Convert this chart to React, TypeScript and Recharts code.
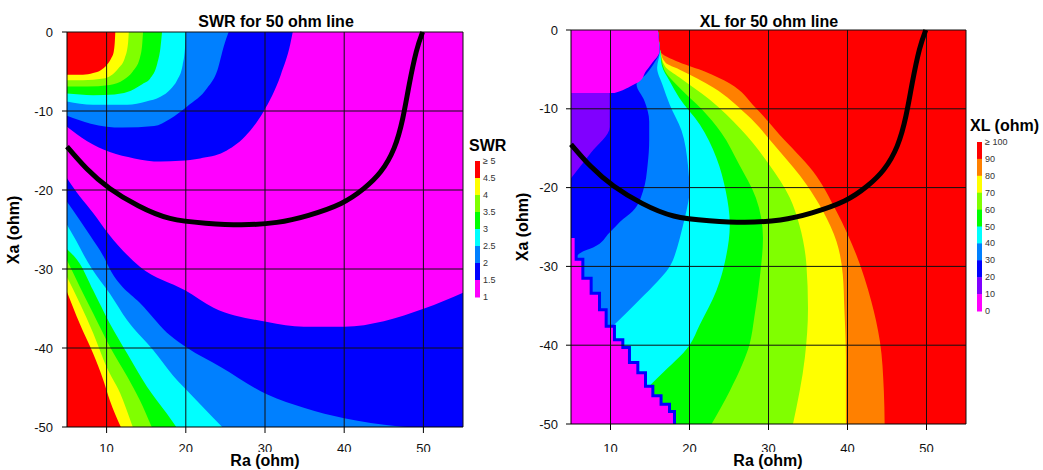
import React from "react";
import { ComposedChart, Area, Line, XAxis, YAxis } from "recharts";

type Pt = [number, number];

const FONT = '"Liberation Sans", Arial, Helvetica, sans-serif';

const raTicks = [10, 20, 30, 40, 50];
const xaTicks = [0, -10, -20, -30, -40, -50];
const raDomain: [number, number] = [5, 55];
const xaDomain: [number, number] = [-50, 0];

// the black line, same in both plots (Ra, Xa)
const lineCurve: Pt[] = [
  [5, -14.5], [7.5, -17.3], [10.4, -19.8], [14, -22.0], [18, -23.6], [22.5, -24.2],
  [27, -24.4], [31.5, -24.1], [35.5, -23.2], [39.6, -21.7], [42.5, -19.8], [44.6, -17.7],
  [46.3, -14.7], [47.4, -10.9], [48.2, -6.7], [49.1, -2.5], [49.9, 0],
];

// SWR: lower edge of each band in the top-left corner (Ra, Xa)
const swrTop15: Pt[] = [[5, -12.0], [7.5, -13.8], [10.4, -15.2], [13.5, -16.0], [16.8, -16.4], [19.3, -16.3], [21.8, -16.0], [24.8, -15.2], [27.5, -13.2], [29.8, -10.1], [32.0, -5.4], [33.2, -1.5], [33.5, 0]];
const swrTop20: Pt[] = [[5, -10.6], [8, -11.6], [12, -12.1], [16, -11.9], [18, -11.0], [20.2, -9.4], [22.7, -7.1], [24.0, -4.8], [24.8, -1.8], [25.4, 0]];
const swrTop25: Pt[] = [[5, -8.8], [8.3, -9.2], [12.6, -9.2], [15, -8.8], [16.8, -8.2], [18.1, -7.2], [18.9, -6.1], [19.6, -4.2], [19.9, -2.0], [20.0, 0]];
const swrTop30: Pt[] = [[5, -7.8], [8.3, -8.0], [11, -7.9], [12.6, -7.6], [14.5, -6.6], [15.5, -5.9], [16.4, -4.0], [16.8, -2.0], [17.0, 0]];
const swrTop35: Pt[] = [[5, -6.9], [7.5, -6.9], [10.4, -6.7], [12.2, -6.0], [13.3, -5.0], [14.2, -3.3], [14.5, -1.5], [14.6, 0]];
const swrTop40: Pt[] = [[5, -6.1], [7, -6.1], [9.6, -5.9], [11.5, -4.6], [12.3, -3.3], [12.7, -1.5], [12.8, 0]];
const swrTop45: Pt[] = [[5, -5.4], [7.0, -5.4], [8.3, -5.2], [9.3, -4.8], [10.0, -4.2], [10.6, -3.3], [10.9, -2.5], [11.05, -1.0], [11.1, 0]];

// SWR: upper edge of each band along the bottom-left (Ra, Xa)
const swrBot15: Pt[] = [[5, -18.5], [6.6, -20.8], [8.3, -22.9], [10.2, -25.5], [14.2, -29.7], [19.9, -32.7], [23.5, -34.9], [30.3, -36.7], [34.9, -37.3], [40.0, -37.3], [45, -36.6], [50.1, -35.0], [55, -33.0]];
const swrBot20: Pt[] = [[5, -21.5], [6.6, -23.8], [8, -25.9], [9.6, -28.4], [10.4, -30.0], [14.7, -34.8], [18.0, -38.4], [20.2, -40.0], [24.4, -42.4], [30.3, -45.9], [35, -47.6], [40.0, -48.9], [46.7, -49.9], [48, -50]];
const swrBot25: Pt[] = [[5, -24.4], [6.2, -26.5], [7.1, -28.2], [8.1, -29.9], [10.4, -33.1], [12.6, -36.5], [15.9, -40.3], [18.4, -43.5], [19.7, -44.9], [22, -47.3], [24.6, -50]];
const swrBot30: Pt[] = [[5, -27.5], [6.6, -29.3], [8.3, -32.7], [10.4, -36.9], [12.6, -40.7], [15.1, -44.9], [17.6, -48.3], [18.8, -50]];
const swrBot35: Pt[] = [[5, -28.9], [6.6, -32.2], [8.3, -35.6], [10.4, -39.8], [12.6, -43.6], [14.2, -46.6], [15.7, -50]];
const swrBot40: Pt[] = [[5, -31.0], [6.6, -34.3], [8.3, -38.1], [10.0, -42.4], [11.7, -45.7], [13.3, -50]];
const swrBot45: Pt[] = [[5, -32.9], [6.6, -36.9], [8.3, -40.7], [9.6, -44.1], [10.4, -46.6], [11.8, -50]];

// XL: right edge of the region below each level, read top to bottom (Ra, Xa)
const xlEdge90: Pt[] = [[16.0, 0], [16.1, -1.0], [16.3, -2.7], [18.7, -4.1], [22.0, -5.3], [25.1, -6.8], [28.3, -9.8], [31.4, -13.3], [35.6, -17.9], [38.6, -23.0], [41.1, -28.5], [43.0, -34.4], [44.1, -39.5], [44.6, -45.8], [44.7, -50]];
const xlEdge80: Pt[] = [[16.0, 0], [16.1, -1.0], [16.3, -2.7], [17.0, -4.2], [18.7, -5.0], [23.0, -7.3], [27.2, -10.7], [31.4, -15.4], [34.8, -19.6], [36.9, -23.0], [38.6, -26.8], [39.4, -31.0], [39.6, -35.3], [39.8, -41.6], [39.8, -50]];
const xlEdge70: Pt[] = [[16.0, 0], [16.1, -1.0], [16.3, -2.7], [16.9, -4.6], [18.7, -6.0], [22.5, -8.8], [26.5, -12.6], [30.1, -17.1], [32.7, -21.3], [33.9, -24.7], [34.8, -29.8], [35.0, -35.3], [34.6, -41.6], [33.1, -50]];
const xlEdge60: Pt[] = [[16.0, 0], [16.1, -1.0], [16.3, -2.7], [16.8, -5.0], [18.7, -7.3], [21.5, -10.0], [24.0, -13.0], [26.3, -17.1], [28.4, -21.3], [29.3, -26.4], [28.9, -31.4], [28.2, -36.5], [27.6, -39.9], [26.7, -42.4], [25.1, -45.8], [22.8, -50]];
const xlEdge50: Pt[] = [[16.0, 0], [16.1, -1.0], [16.3, -2.7], [16.5, -4.5], [17.5, -6.5], [18.7, -8.6], [21.3, -12.0], [23.4, -16.2], [24.6, -20.5], [25.1, -24.7], [24.6, -28.9], [23.4, -33.1], [21.3, -37.4], [20.0, -40.0], [16.2, -43.9], [14.9, -45.2]];
const xlEdge40: Pt[] = [[16.0, 0], [16.1, -1.0], [16.25, -2.7], [15.9, -4.8], [16.6, -7.0], [17.5, -9.5], [19.0, -12.8], [19.8, -17.1], [20.0, -20.5], [19.6, -23.0], [19.0, -25.5], [18.5, -27.4], [17.5, -30.0], [15.4, -32.5], [13.3, -34.6], [10.9, -37.0], [10.3, -37.6]];
const xlEdge30: Pt[] = [[16.0, 0], [16.1, -1.0], [16.2, -2.7], [15.4, -4.4], [14.5, -5.6], [13.3, -6.9], [14.3, -9.0], [14.9, -11.6], [14.9, -14.0], [14.7, -17.1], [14.1, -20.5], [12.8, -23.0], [11.6, -24.0], [9.9, -25.7], [7.8, -27.6], [6.5, -28.1], [5.7, -28.7]];
const xlEdge20: Pt[] = [[9.9, -7.6], [9.9, -12.3], [7.5, -15.6], [5.0, -18.8]];
const xlEdge10Top: Pt[] = [[16.0, 0], [16.1, -1.0], [16.2, -2.7], [15.1, -4.4], [14.5, -5.2], [13.7, -6.5], [12.6, -7.1], [11.1, -7.8], [10.5, -8.0]];
const xlEdge10Stairs: Pt[] = [
  [5.65, -26.4], [5.65, -29.1], [6.5, -29.1], [6.5, -31.5], [7.55, -31.5], [7.55, -33.4],
  [8.61, -33.4], [8.61, -35.5], [9.45, -35.5], [9.45, -37.6], [10.5, -37.6], [10.5, -39.3],
  [11.56, -39.3], [11.56, -40.3], [12.4, -40.3], [12.4, -42.2], [13.46, -42.2], [13.46, -43.5],
  [14.43, -43.5], [14.43, -45.2], [15.36, -45.2], [15.36, -46.4], [16.4, -46.4], [16.4, -47.5],
  [17.47, -47.5], [17.47, -48.4], [18.1, -48.4], [18.1, -50],
];

const swrColors = ["#ff0000", "#ffff00", "#80ff00", "#00ff00", "#00ffff", "#0080ff", "#0000ff", "#ff00ff"];
const swrLabels = ["\u2265 5", "4.5", "4", "3.5", "3", "2.5", "2", "1.5", "1"];
const xlColors = ["#ff0000", "#ff8000", "#ffff00", "#80ff00", "#00ff00", "#00ffff", "#0080ff", "#0000ff", "#8000ff", "#ff00ff"];
const xlLabels = ["\u2265 100", "90", "80", "70", "60", "50", "40", "30", "20", "10", "0"];

// SWR bands painted from the lowest level up
const swrLayers = [
  { color: "#0000ff", top: swrTop15, bottom: swrBot15 },
  { color: "#0080ff", top: swrTop20, bottom: swrBot20 },
  { color: "#00ffff", top: swrTop25, bottom: swrBot25 },
  { color: "#00ff00", top: swrTop30, bottom: swrBot30 },
  { color: "#80ff00", top: swrTop35, bottom: swrBot35 },
  { color: "#ffff00", top: swrTop40, bottom: swrBot40 },
  { color: "#ff0000", top: swrTop45, bottom: swrBot45 },
];

// XL regions painted from the highest level down
const xlLayers = [
  { color: "#ff8000", edge: xlEdge90 },
  { color: "#ffff00", edge: xlEdge80 },
  { color: "#80ff00", edge: xlEdge70 },
  { color: "#00ff00", edge: xlEdge60 },
  { color: "#00ffff", edge: xlEdge50 },
  { color: "#0080ff", edge: xlEdge40 },
  { color: "#0000ff", edge: xlEdge30 },
  { color: "#8000ff", edge: xlEdge20 },
  { color: "#ff00ff", edge: xlEdge10Top },
];

const topBand = (edge: Pt[]) => edge.map(([x, y]) => ({ x, v: [y, xaDomain[1]] }));
const bottomBand = (edge: Pt[]) => edge.map(([x, y]) => ({ x, v: [xaDomain[0], y] }));
const asRows = (edge: Pt[]) => edge.map(([x, y]) => ({ x, y }));

const gridX = [...raTicks, raDomain[1]];
const gridY = xaTicks.filter((t) => t !== xaDomain[0]);

const fill = {
  stroke: "none",
  fillOpacity: 1,
  dot: false,
  activeDot: false,
  isAnimationActive: false,
  legendType: "none" as const,
};

const lineBase = {
  dot: false,
  activeDot: false,
  isAnimationActive: false,
  legendType: "none" as const,
};

const axisTick = { fill: "#111", fontSize: 13 };
const axisLine = { stroke: "#000" };

function SwrChart() {
  return (
    <ComposedChart width={520} height={470} margin={{ top: 32, right: 57, bottom: 0, left: 0 }}>
      <XAxis type="number" dataKey="x" domain={raDomain} ticks={raTicks} height={43} tickSize={6} tickMargin={11} tick={axisTick} axisLine={axisLine} tickLine={axisLine} />
      <YAxis type="number" domain={xaDomain} ticks={xaTicks} width={67} tickSize={5} tickMargin={9} tick={axisTick} axisLine={axisLine} tickLine={axisLine} />

      <Area {...fill} type="linear" data={[{ x: raDomain[0], v: xaDomain }, { x: raDomain[1], v: xaDomain }]} dataKey="v" fill="#ff00ff" />
      {swrLayers.map((l, i) => (
        <Area key={`t${i}`} {...fill} type="monotone" data={topBand(l.top)} dataKey="v" fill={l.color} />
      ))}
      {swrLayers.map((l, i) => (
        <Area key={`b${i}`} {...fill} type="monotone" data={bottomBand(l.bottom)} dataKey="v" fill={l.color} />
      ))}

      {gridX.map((t) => (
        <Line key={`gx${t}`} {...lineBase} type="linear" data={[{ x: t, y: xaDomain[0] }, { x: t, y: xaDomain[1] }]} dataKey="y" stroke="#111" strokeWidth={1} />
      ))}
      {gridY.map((t) => (
        <Line key={`gy${t}`} {...lineBase} type="linear" data={[{ x: raDomain[0], y: t }, { x: raDomain[1], y: t }]} dataKey="y" stroke="#111" strokeWidth={1} />
      ))}
      <Line {...lineBase} type="natural" data={asRows(lineCurve)} dataKey="y" stroke="#000" strokeWidth={5} />
    </ComposedChart>
  );
}

function XlChart() {
  return (
    <ComposedChart layout="vertical" width={539} height={470} margin={{ top: 30, right: 77, bottom: 0, left: 0 }}>
      <XAxis type="number" domain={raDomain} ticks={raTicks} height={46} tickSize={6} tickMargin={14} tick={axisTick} axisLine={axisLine} tickLine={axisLine} />
      <YAxis type="number" dataKey="y" reversed domain={xaDomain} ticks={xaTicks} width={67} tickSize={5} tickMargin={8} tick={axisTick} axisLine={axisLine} tickLine={axisLine} />

      <Area {...fill} type="linear" data={asRows([[raDomain[1], xaDomain[1]], [raDomain[1], xaDomain[0]]])} dataKey="x" baseValue="dataMin" fill="#ff0000" />
      {xlLayers.map((l, i) => (
        <Area key={`r${i}`} {...fill} type="monotone" data={asRows(l.edge)} dataKey="x" baseValue="dataMin" fill={l.color} />
      ))}
      <Area {...fill} type="linear" data={asRows(xlEdge10Stairs)} dataKey="x" baseValue="dataMin" fill="#ff00ff" stroke="#0000ff" strokeWidth={3} />

      {gridX.map((t) => (
        <Line key={`gx${t}`} {...lineBase} type="linear" data={[{ y: xaDomain[0], x: t }, { y: xaDomain[1], x: t }]} dataKey="x" stroke="#111" strokeWidth={1} />
      ))}
      {gridY.map((t) => (
        <Line key={`gy${t}`} {...lineBase} type="linear" data={[{ y: t, x: raDomain[0] }, { y: t, x: raDomain[1] }]} dataKey="x" stroke="#111" strokeWidth={1} />
      ))}
      <Line {...lineBase} type="natural" data={asRows(lineCurve)} dataKey="x" stroke="#000" strokeWidth={5} />
    </ComposedChart>
  );
}

function ColorBar({ x, top, step, colors, labels }: { x: number; top: number; step: number; colors: string[]; labels: string[] }) {
  return (
    <g>
      {colors.map((c, i) => (
        <rect key={c} x={x} y={top + i * step} width={5} height={step + 0.5} fill={c} />
      ))}
      {labels.map((l, i) => (
        <text key={l} x={x + 8} y={top + i * step} fontSize={9} fill="#333" dominantBaseline="central">
          {l}
        </text>
      ))}
    </g>
  );
}

export default function App() {
  return (
    <div style={{ position: "absolute", left: 0, top: 0, width: 1043, height: 470, background: "#fff", fontFamily: FONT }}>
      <div style={{ position: "absolute", left: 0, top: 0 }}>
        <SwrChart />
      </div>
      <div style={{ position: "absolute", left: 504, top: 0 }}>
        <XlChart />
      </div>
      <svg style={{ position: "absolute", left: 0, top: 0 }} width={1043} height={470} fontFamily={FONT}>
        <text x={276} y={27} textAnchor="middle" fontSize={16} fontWeight="bold">SWR for 50 ohm line</text>
        <text x={769} y={27} textAnchor="middle" fontSize={16} fontWeight="bold">XL for 50 ohm line</text>

        <rect x={60} y={452} width={415} height={18} fill="#fff" />
        <rect x={560} y={452} width={415} height={18} fill="#fff" />
        <text x={265} y={466} textAnchor="middle" fontSize={16} fontWeight="bold">Ra (ohm)</text>
        <text x={768} y={466} textAnchor="middle" fontSize={16} fontWeight="bold">Ra (ohm)</text>

        <text x={13} y={230} transform="rotate(-90 13 230)" textAnchor="middle" dominantBaseline="central" fontSize={16} fontWeight="bold">Xa (ohm)</text>
        <text x={522} y={227} transform="rotate(-90 522 227)" textAnchor="middle" dominantBaseline="central" fontSize={16} fontWeight="bold">Xa (ohm)</text>

        <text x={469} y={151} fontSize={16} fontWeight="bold">SWR</text>
        <ColorBar x={475} top={161} step={17} colors={swrColors} labels={swrLabels} />
        <text x={970} y={131} fontSize={16} fontWeight="bold">XL (ohm)</text>
        <ColorBar x={977} top={142} step={16.9} colors={xlColors} labels={xlLabels} />
      </svg>
    </div>
  );
}
